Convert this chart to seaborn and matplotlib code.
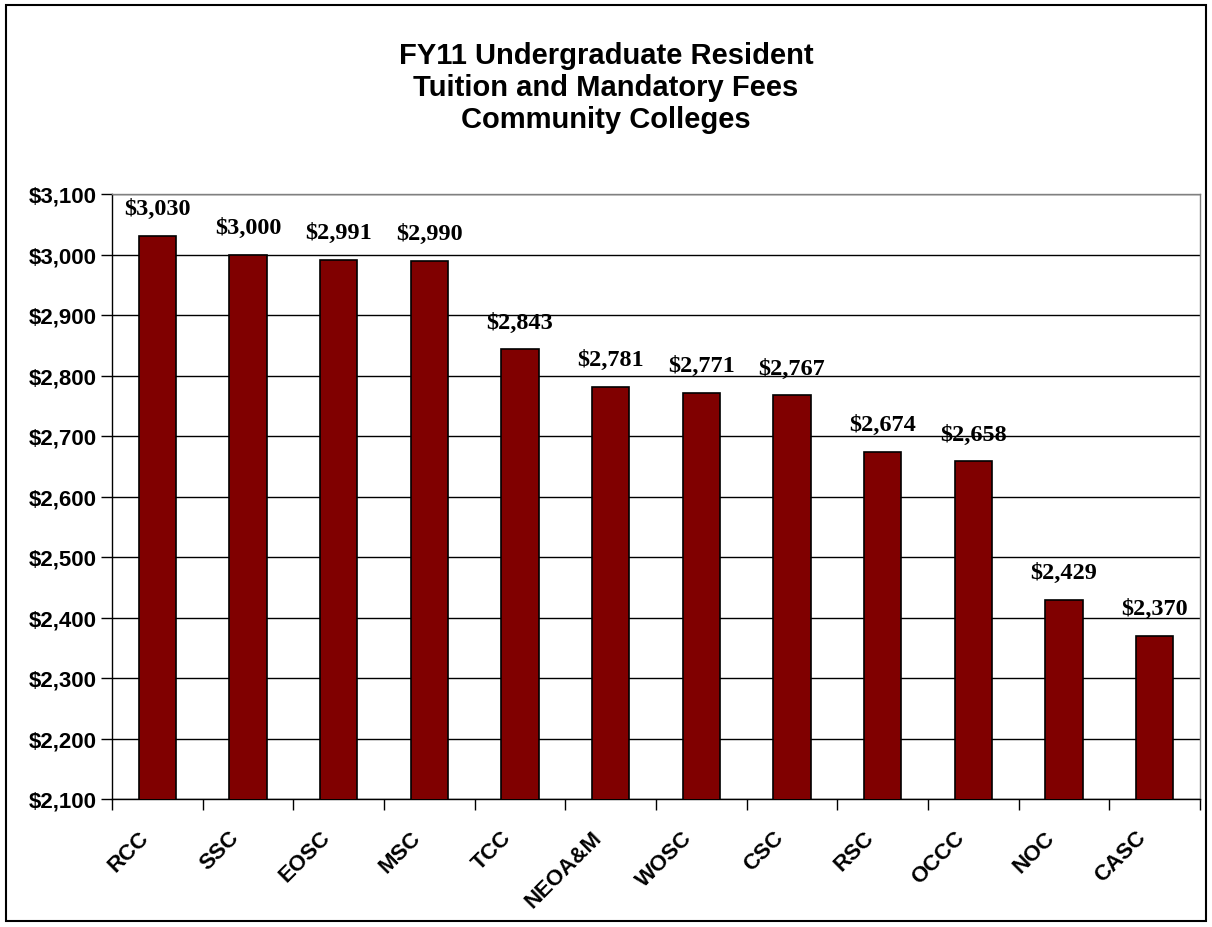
import matplotlib
matplotlib.use("Agg")
import matplotlib.pyplot as plt
import seaborn as sns
import pandas as pd
from matplotlib.patches import Rectangle
from matplotlib.ticker import FuncFormatter, MultipleLocator
from matplotlib.transforms import ScaledTranslation

colleges = ["RCC", "SSC", "EOSC", "MSC", "TCC", "NEOA&M", "WOSC", "CSC",
            "RSC", "OCCC", "NOC", "CASC"]
fees = [3030, 3000, 2991, 2990, 2843, 2781, 2771, 2767, 2674, 2658, 2429, 2370]
title = "FY11 Undergraduate Resident\nTuition and Mandatory Fees\nCommunity Colleges"

df = pd.DataFrame({"college": colleges, "fee": fees})

sns.set_style("white")
plt.rcParams["font.family"] = ["Liberation Sans", "DejaVu Sans"]
plt.rcParams["text.color"] = "black"
plt.rcParams["xtick.color"] = "black"
plt.rcParams["ytick.color"] = "black"

fig = plt.figure(figsize=(12.12, 9.28), dpi=100)
ax = fig.add_axes([112 / 1212, 1 - 800 / 928, (1200 - 112) / 1212, (800 - 195) / 928])

sns.barplot(data=df, x="college", y="fee", color="#800000", width=0.41,
            edgecolor="black", linewidth=1.2, saturation=1, ax=ax, zorder=3)

ax.set_ylim(2100, 3100)
ax.set_xlim(-0.5, len(colleges) - 0.5)
ax.yaxis.set_major_locator(MultipleLocator(100))
ax.yaxis.set_major_formatter(FuncFormatter(lambda v, p: f"${v:,.0f}"))
ax.grid(axis="y", color="black", linewidth=1, zorder=0)
ax.set_xlabel("")
ax.set_ylabel("")

for s in ["top", "right"]:
    ax.spines[s].set_color("#808080")
for s in ["left", "bottom"]:
    ax.spines[s].set_color("black")
for s in ax.spines.values():
    s.set_linewidth(1)

# category ticks sit between the bars
ax.set_xticks([i + 0.5 for i in range(-1, len(colleges))], minor=True)
ax.tick_params(axis="x", which="minor", length=8, width=1, color="black",
               direction="out", bottom=True)
ax.tick_params(axis="x", which="major", length=0, pad=18)
ax.tick_params(axis="y", length=8, width=1, color="black", direction="out", left=True, pad=3)
ax.set_xticks(range(len(colleges)))
ax.set_xticklabels(colleges, rotation=45, ha="right", va="center", rotation_mode="anchor",
                   fontsize=16, fontweight="bold")
shift = ScaledTranslation(-0.12, -0.10, fig.dpi_scale_trans)
for t in ax.get_xticklabels():
    t.set_transform(t.get_transform() + shift)
for t in ax.get_yticklabels():
    t.set_fontsize(16)
    t.set_fontweight("bold")

for i, v in enumerate(fees):
    ax.text(i, v + 28, f"${v:,}", ha="center", va="bottom", fontsize=17.5,
            fontweight="bold", family=["Liberation Serif", "DejaVu Serif"])

fig.text(0.5, 1 - 88 / 928, title, ha="center", va="center", fontsize=21,
         fontweight="bold", linespacing=1.2)

fig.patches.append(Rectangle((6 / 1212, 6 / 928), 1200 / 1212, 916 / 928,
                             transform=fig.transFigure, fill=False,
                             edgecolor="black", linewidth=1.5))

fig.savefig("out.png", dpi=100)
